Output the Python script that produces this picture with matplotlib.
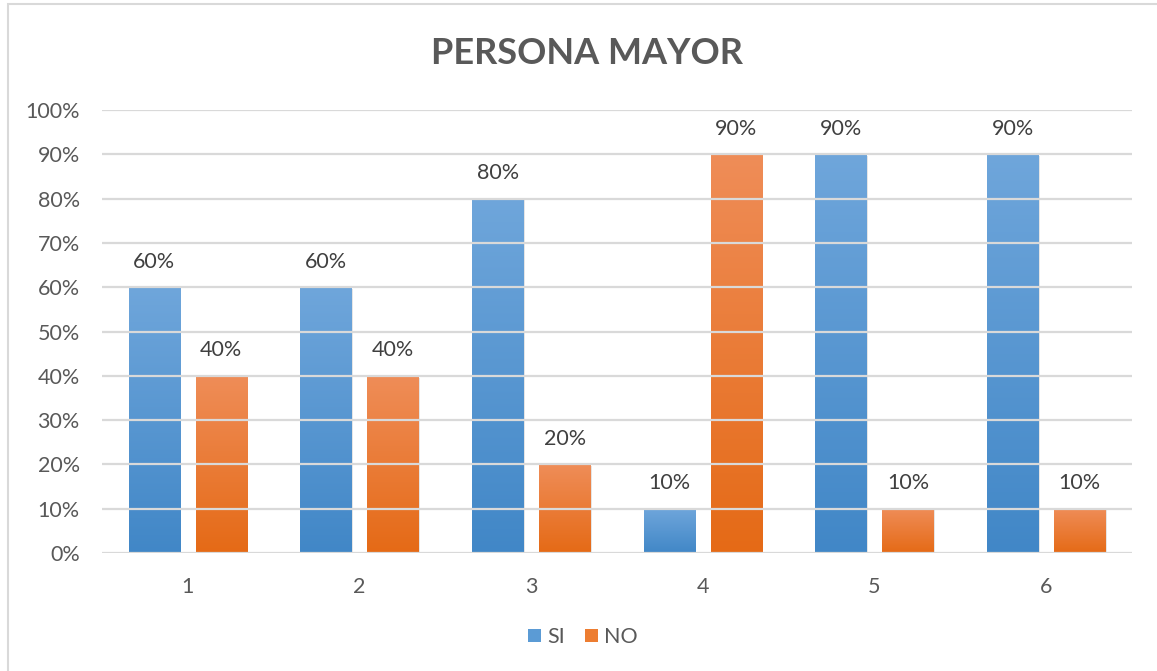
import numpy as np
import matplotlib
matplotlib.use("Agg")
import matplotlib.pyplot as plt
from matplotlib.patches import Rectangle
from matplotlib.colors import LinearSegmentedColormap

categories = ["1", "2", "3", "4", "5", "6"]
si_values = [0.60, 0.60, 0.80, 0.10, 0.90, 0.90]
no_values = [0.40, 0.40, 0.20, 0.90, 0.10, 0.10]
yticks = [0, 0.1, 0.2, 0.3, 0.4, 0.5, 0.6, 0.7, 0.8, 0.9, 1.0]
ytick_labels = ["0%", "10%", "20%", "30%", "40%", "50%", "60%", "70%", "80%", "90%", "100%"]
title = "PERSONA MAYOR"
series_names = ["SI", "NO"]

plt.rcParams['font.family'] = ['Lato', 'DejaVu Sans']
W, H = 1157, 671
fig = plt.figure(figsize=(W / 100, H / 100), dpi=100)
fig.patch.set_facecolor("white")

# outer chart border
fig.patches.append(Rectangle((8 / W, -0.01), 1.2, 1 - 4 / H + 0.01, transform=fig.transFigure,
                             fill=False, edgecolor="#d9d9d9", linewidth=1.5, zorder=0))

ax = fig.add_axes([102 / W, 1 - 553 / H, (1132 - 102) / W, (553 - 110) / H])

blue_cmap = LinearSegmentedColormap.from_list("b", ["#4187c7", "#6fa6db"])
orange_cmap = LinearSegmentedColormap.from_list("o", ["#e56a16", "#ef8d58"])
grad = np.linspace(0, 1, 256).reshape(-1, 1)

width = 0.30
offset = 0.195
x = np.arange(len(categories))
for vals, cmap, off in [(si_values, blue_cmap, -offset), (no_values, orange_cmap, offset)]:
    bars = ax.bar(x + off, vals, width=width, color="none", zorder=2)
    for bar, v in zip(bars, vals):
        x0 = bar.get_x()
        # subtle shadow
        ax.add_patch(Rectangle((x0 + 0.008, -0.004), width, v, facecolor="#000000",
                               alpha=0.10, linewidth=0, zorder=1.5))
        ax.imshow(grad, cmap=cmap, aspect="auto", origin="lower",
                  extent=(x0, x0 + width, 0, v), zorder=2)
        ax.text(x0 + width / 2, v + 0.035, f"{int(round(v * 100))}%", ha="center", va="bottom",
                fontsize=15.5, color="#404040", zorder=5)
ax.set_xlim(-0.5, len(categories) - 0.5)
ax.set_ylim(0, 1.0)

for t in yticks:
    ax.axhline(t, color="#d9d9d9", linewidth=1.6, zorder=3)

ax.set_yticks(yticks)
ax.set_yticklabels(ytick_labels)
ax.set_xticks(x)
ax.set_xticklabels(categories)
ax.tick_params(axis="both", length=0, labelsize=15.5, labelcolor="#595959")
ax.tick_params(axis="y", pad=16)
ax.tick_params(axis="x", pad=17)
for s in ax.spines.values():
    s.set_visible(False)

fig.text(587 / W, 1 - 54 / H, title, ha="center", va="center", fontsize=26,
         fontweight="bold", color="#595959")

# legend
handles = [Rectangle((0, 0), 1, 1, facecolor="#5b9bd5"), Rectangle((0, 0), 1, 1, facecolor="#ed7d31")]
fig.legend(handles, series_names, loc="center", bbox_to_anchor=(583 / W, 1 - 637 / H), ncol=2,
           frameon=False, fontsize=15.5, handlelength=0.6, handleheight=0.6, handletextpad=0.3,
           columnspacing=0.9, labelcolor="#595959")

fig.savefig("out.png", dpi=100)
